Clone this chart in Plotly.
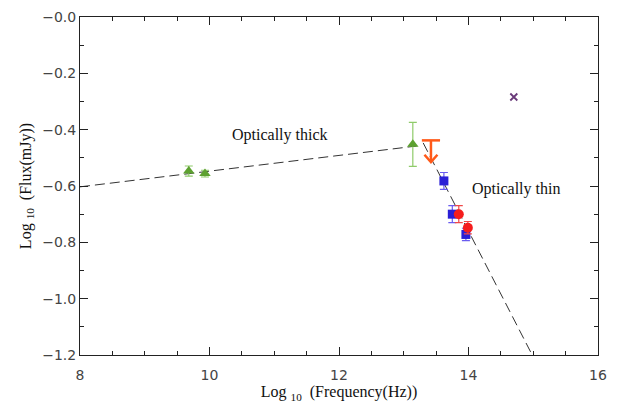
import plotly.graph_objects as go

# --- data (log10 frequency in Hz, log10 flux in mJy) ---
tri_x = [9.68, 9.93, 13.14]
tri_y = [-0.547, -0.556, -0.452]
tri_err_plus = [0.018, 0.012, 0.078]
tri_err_minus = [0.018, 0.012, 0.078]

sq_x = [13.62, 13.75, 13.96]
sq_y = [-0.582, -0.700, -0.772]
sq_err = [0.030, 0.030, 0.022]

circ_x = [13.85, 13.99]
circ_y = [-0.700, -0.748]
circ_err = [0.030, 0.022]

ul_x = [13.42]
ul_top = [-0.438]
ul_tip = [-0.515]

x_mark_x = [14.70]
x_mark_y = [-0.284]

thick_x = [8.0, 13.2]
thick_y = [-0.603, -0.458]
thin_x = [13.3, 15.1]
thin_y = [-0.447, -1.252]

xtick_vals = [8, 10, 12, 14, 16]
xtick_text = ["8", "10", "12", "14", "16"]
ytick_vals = [0.0, -0.2, -0.4, -0.6, -0.8, -1.0, -1.2]
ytick_text = ["\u22120.0", "\u22120.2", "\u22120.4", "\u22120.6", "\u22120.8", "\u22121.0", "\u22121.2"]

fig = go.Figure()

# fitted dashed lines
fig.add_trace(go.Scatter(x=thick_x, y=thick_y, mode="lines",
                         line=dict(color="#333333", width=1, dash="10px,5px"),
                         showlegend=False, hoverinfo="skip"))
fig.add_trace(go.Scatter(x=thin_x, y=thin_y, mode="lines",
                         line=dict(color="#333333", width=1, dash="10px,5px"),
                         showlegend=False, hoverinfo="skip"))

# green triangles
fig.add_trace(go.Scatter(x=tri_x, y=tri_y, mode="markers",
                         marker=dict(symbol="triangle-up", size=10, color="#5da130"),
                         error_y=dict(type="data", symmetric=False, array=tri_err_plus,
                                      arrayminus=tri_err_minus, color="#8fcb6a",
                                      thickness=1.2, width=4),
                         showlegend=False))

# blue squares
fig.add_trace(go.Scatter(x=sq_x, y=sq_y, mode="markers",
                         marker=dict(symbol="square", size=9, color="#2a1fd6"),
                         error_y=dict(type="data", array=sq_err, color="#6a5cf0",
                                      thickness=1.2, width=4),
                         showlegend=False))

# red circles
fig.add_trace(go.Scatter(x=circ_x, y=circ_y, mode="markers",
                         marker=dict(symbol="circle", size=10, color="#f51d1d"),
                         error_y=dict(type="data", array=circ_err, color="#f04848",
                                      thickness=1.2, width=4),
                         showlegend=False))

# upper limit (orange)
orange = "#ff5a1a"
fig.add_trace(go.Scatter(x=ul_x + ul_x, y=ul_top + ul_tip, mode="lines",
                         line=dict(color=orange, width=2.5),
                         showlegend=False, hoverinfo="skip"))
fig.add_trace(go.Scatter(x=ul_x, y=ul_top, mode="markers",
                         marker=dict(symbol="line-ew", size=13,
                                     line=dict(color=orange, width=2.5)),
                         showlegend=False, hoverinfo="skip"))
dx, dy = 0.1, 0.026
chev_x = [ul_x[0] - dx, ul_x[0], ul_x[0] + dx]
chev_y = [ul_tip[0] + dy, ul_tip[0], ul_tip[0] + dy]
fig.add_trace(go.Scatter(x=chev_x, y=chev_y, mode="lines",
                         line=dict(color=orange, width=2.5),
                         showlegend=False, hoverinfo="skip"))

# purple cross
fig.add_trace(go.Scatter(x=x_mark_x, y=x_mark_y, mode="markers",
                         marker=dict(symbol="x-thin", size=7,
                                     line=dict(color="#6a3a7a", width=1.8)),
                         showlegend=False))

fig.add_annotation(x=11.09, y=-0.418, text="Optically thick", showarrow=False,
                   font=dict(family="Liberation Serif", size=16, color="#111111"))
fig.add_annotation(x=14.73, y=-0.61, text="Optically thin", showarrow=False,
                   font=dict(family="Liberation Serif", size=16, color="#111111"))

axis_common = dict(showgrid=False, zeroline=False, showline=True, mirror="allticks",
                   linecolor="#222222", linewidth=1, ticks="inside", automargin=False,
                   tickcolor="#222222", tickfont=dict(family="DejaVu Sans", size=14, color="#444444"))

fig.update_xaxes(range=[8, 16], tickvals=xtick_vals, ticktext=xtick_text, ticklen=8,
                 ticklabelstandoff=7,
                 minor=dict(dtick=0.5, ticklen=4, ticks="inside", tickcolor="#222222"),
                 title=dict(text="Log <sub>10</sub>  (Frequency(Hz))",
                            font=dict(family="Liberation Serif", size=16, color="#111111"),
                            standoff=4),
                 **axis_common)
fig.update_yaxes(range=[-1.2, 0.0], tickvals=ytick_vals, ticktext=ytick_text, ticklen=8,
                 minor=dict(dtick=0.1, ticklen=4, ticks="inside", tickcolor="#222222"),
                 title=dict(text="Log <sub>10</sub>  (Flux(mJy))",
                            font=dict(family="Liberation Serif", size=16, color="#111111"),
                            standoff=6),
                 **axis_common)

fig.update_layout(width=630, height=405, margin=dict(l=80, r=32, t=17, b=50),
                  paper_bgcolor="white", plot_bgcolor="white")

fig.write_html("out.html")
